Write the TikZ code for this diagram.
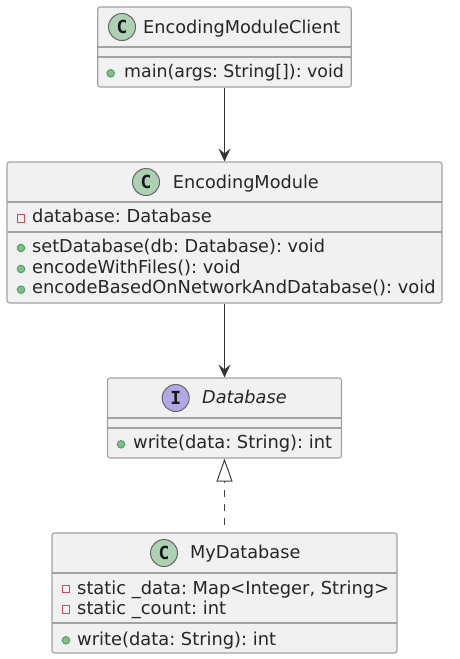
\documentclass[tikz,border=0pt]{standalone}
\usepackage{fontspec}
\setmainfont{DejaVu Sans}
\setmonofont{DejaVu Sans Mono}
\usetikzlibrary{arrows.meta}
\definecolor{boxfill}{HTML}{F1F1F1}
\definecolor{boxline}{HTML}{A2A2A2}
\definecolor{inktext}{HTML}{262626}
\definecolor{classfill}{HTML}{ADD1B2}
\definecolor{ifacefill}{HTML}{B4A7E5}
\definecolor{pubfill}{HTML}{84BE84}
\definecolor{publine}{HTML}{4FA070}
\definecolor{privline}{HTML}{C8505A}
\tikzset{
	classbox/.style={draw=boxline,fill=boxfill,line width=1.1pt,rounded corners=2.5pt,inner sep=0pt},
	sepline/.style={draw=boxline,line width=1.1pt},
	badge/.style={circle,draw=black!60,line width=1pt,minimum size=27pt,inner sep=0pt,font=\ttfamily\bfseries\fontsize{18}{18}\selectfont,text=black!90},
	txt/.style={anchor=base west,inner sep=0pt,text=inktext,font=\frenchspacing\fontsize{17.7}{19}\selectfont},
	member/.style={txt,font=\frenchspacing\fontsize{17.85}{19}\selectfont},
	pub/.style={circle,draw=publine,fill=pubfill,line width=1pt,minimum size=7.5pt,inner sep=0pt},
	priv/.style={rectangle,draw=privline,fill=none,line width=1pt,minimum size=7.5pt,inner sep=0pt},
	link/.style={draw=black!80,line width=1pt,-{Stealth[length=13pt,width=12pt,inset=5pt]}},
	realize/.style={draw=black!75,line width=1pt,dash pattern=on 7pt off 7pt,dash phase=7pt,-{Triangle[open,length=23pt,width=16pt,fill=white]}}
}
\begin{document}
\begin{tikzpicture}[x=1pt,y=-1pt]
	\useasboundingbox (0,0) rectangle (459,659);
	% boxes
	\node[classbox,minimum width=253.5pt,minimum height=80pt] (client) at (224.5,47) {};
	\node[classbox,minimum width=435pt,minimum height=141pt] (module) at (224.5,232.5) {};
	\node[classbox,minimum width=234pt,minimum height=80pt] (database) at (224.5,418) {};
	\node[classbox,minimum width=345pt,minimum height=120pt] (mydb) at (224.5,593) {};
	% separators
	\draw[sepline] (97.75,47) -- (351.25,47);
	\draw[sepline] (97.75,57) -- (351.25,57);
	\draw[sepline] (7,202) -- (442,202);
	\draw[sepline] (7,232) -- (442,232);
	\draw[sepline] (107.5,418) -- (341.5,418);
	\draw[sepline] (107.5,428) -- (341.5,428);
	\draw[sepline] (52,573) -- (397,573);
	\draw[sepline] (52,623) -- (397,623);
	% client
	\node[badge,fill=classfill] (clienticon) at (122,27) {C};
	\node[txt] (clienttitle) at (143,33) {EncodingModuleClient};
	\node[pub] (clientdot) at (110.7,73.3) {};
	\node[txt,font=\frenchspacing\fontsize{17.4}{19}\selectfont] (clientmain) at (124,77.5) {main(args: String[]): void};
	% module
	\node[badge,fill=classfill] (moduleicon) at (146,182) {C};
	\node[txt] (moduletitle) at (172.7,188) {EncodingModule};
	\node[priv] (dbbox) at (21,218.3) {};
	\node[member] (dbfield) at (32,222.7) {database: Database};
	\node[pub] (setdot) at (21,248) {};
	\node[txt] (setline) at (32,252.7) {setDatabase(db: Database): void};
	\node[pub] (filesdot) at (21,269) {};
	\node[member] (filesline) at (32,273.5) {encodeWithFiles(): void};
	\node[pub] (netdot) at (21,289.7) {};
	\node[member] (netline) at (32,293.7) {encodeBasedOnNetworkAndDatabase(): void};
	% database
	\node[badge,fill=ifacefill] (databaseicon) at (175.7,398) {I};
	\node[txt,font=\frenchspacing\itshape\fontsize{17.7}{19}\selectfont] (databasetitle) at (202,403) {Database};
	\node[pub] (writedot) at (121,444.3) {};
	\node[member] (writeline) at (133,448.7) {write(data: String): int};
	% mydb
	\node[badge,fill=classfill] (mydbicon) at (164,553) {C};
	\node[txt] (mydbtitle) at (190,558.7) {MyDatabase};
	\node[priv] (databox) at (66,589) {};
	\node[member] (datafield) at (77,594) {static \_data: Map<Integer, String>};
	\node[priv] (countbox) at (66,609.3) {};
	\node[member] (countfield) at (77,614) {static \_count: int};
	\node[pub] (mywritedot) at (66,640.3) {};
	\node[member] (mywrite) at (77,645) {write(data: String): int};
	% connectors
	\draw[link] (client) -- (module);
	\draw[link] (module) -- (database);
	\draw[realize] (mydb) -- (database);
\end{tikzpicture}
\end{document}
